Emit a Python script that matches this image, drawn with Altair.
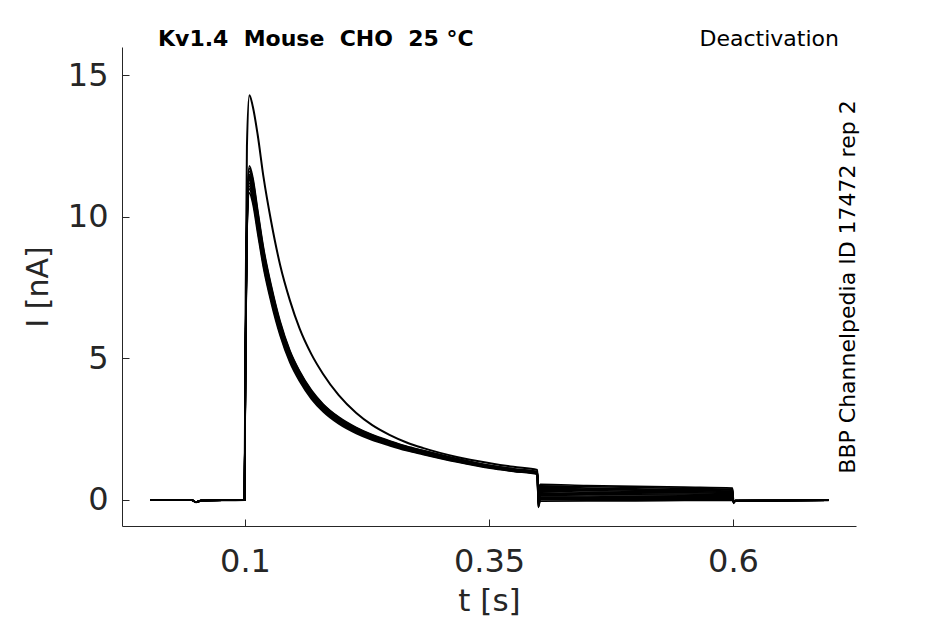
import altair as alt
import pandas as pd

# ---- data ----
T = [0.003, 0.045, 0.050, 0.055, 0.0995,
     0.1005, 0.102,
     0.1045, 0.108, 0.113, 0.119, 0.127, 0.136, 0.146, 0.156, 0.168, 0.180,
     0.196, 0.214, 0.230, 0.248, 0.265, 0.282, 0.317, 0.351, 0.375, 0.3995,
     0.4005, 0.4025, 0.450, 0.500, 0.550, 0.5995,
     0.6005, 0.6025, 0.650, 0.698]

U = [0.0, 0.0, -0.08, -0.02, 0.0, 6.0, 12.5,
     14.3, 13.9, 12.9, 11.4, 9.8, 8.3, 7.05, 6.05, 5.15, 4.45, 3.7, 3.07, 2.65, 2.3, 2.04, 1.84, 1.52, 1.3, 1.17, 1.06,
     0.2, 0.40, 0.38, 0.35, 0.33, 0.31, -0.08, -0.03, -0.02, -0.01]
B1 = [0.0, 0.0, -0.08, -0.02, 0.0, 5.2, 10.4,
      11.8, 11.39, 10.25, 8.9, 7.56, 6.31, 5.28, 4.55, 3.88, 3.39, 2.93, 2.56, 2.31, 2.09, 1.9, 1.75, 1.46, 1.22, 1.1, 0.99,
      0.40, 0.55, 0.51, 0.48, 0.45, 0.42, -0.05, -0.02, -0.02, -0.01]
B2 = [0.0, 0.0, -0.08, -0.02, 0.0, 5.1, 10.3,
      11.71, 11.3, 10.17, 8.83, 7.5, 6.26, 5.24, 4.52, 3.85, 3.37, 2.91, 2.54, 2.29, 2.07, 1.89, 1.74, 1.45, 1.21, 1.09, 0.99,
      0.33, 0.50, 0.47, 0.44, 0.41, 0.38, -0.12, -0.03, -0.02, -0.01]
B3 = [0.0, 0.0, -0.08, -0.02, 0.0, 5.1, 10.2,
      11.61, 11.2, 10.08, 8.75, 7.43, 6.21, 5.19, 4.48, 3.82, 3.34, 2.88, 2.51, 2.27, 2.06, 1.87, 1.72, 1.44, 1.2, 1.08, 0.98,
      0.27, 0.45, 0.42, 0.39, 0.37, 0.35, -0.06, -0.02, -0.02, -0.01]
B4 = [0.0, 0.0, -0.08, -0.02, 0.0, 5.0, 10.1,
      11.5, 11.1, 9.99, 8.68, 7.37, 6.15, 5.15, 4.44, 3.78, 3.31, 2.86, 2.49, 2.25, 2.04, 1.86, 1.71, 1.42, 1.19, 1.07, 0.97,
      0.14, 0.35, 0.33, 0.31, 0.29, 0.27, -0.1, -0.03, -0.02, -0.01]
B5 = [0.0, 0.0, -0.08, -0.02, 0.0, 5.0, 10.0,
      11.45, 11.04, 9.94, 8.63, 7.33, 6.12, 5.12, 4.42, 3.77, 3.29, 2.84, 2.48, 2.24, 2.03, 1.85, 1.7, 1.42, 1.18, 1.06, 0.96,
      0.08, 0.30, 0.28, 0.26, 0.25, 0.23, -0.07, -0.02, -0.02, -0.01]
B6 = [0.0, 0.0, -0.08, -0.02, 0.0, 5.0, 10.0,
      11.4, 11.0, 9.9, 8.6, 7.3, 6.1, 5.1, 4.4, 3.75, 3.28, 2.83, 2.47, 2.23, 2.02, 1.84, 1.69, 1.41, 1.18, 1.06, 0.96,
      0.02, 0.25, 0.23, 0.22, 0.21, 0.19, -0.09, -0.03, -0.02, -0.01]
B7 = [0.0, 0.0, -0.08, -0.02, 0.0, 4.9, 9.9,
      11.35, 10.96, 9.86, 8.57, 7.27, 6.08, 5.08, 4.38, 3.74, 3.27, 2.82, 2.46, 2.22, 2.01, 1.83, 1.68, 1.4, 1.18, 1.06, 0.96,
      -0.04, 0.20, 0.19, 0.18, 0.17, 0.16, -0.05, -0.02, -0.02, -0.01]
B8 = [0.0, 0.0, -0.08, -0.02, 0.0, 4.9, 9.8,
      11.3, 10.9, 9.81, 8.52, 7.23, 6.05, 5.05, 4.36, 3.72, 3.25, 2.8, 2.45, 2.21, 2.0, 1.82, 1.67, 1.4, 1.17, 1.05, 0.95,
      -0.1, 0.15, 0.14, 0.13, 0.13, 0.12, -0.08, -0.03, -0.02, -0.01]
B9 = [0.0, 0.0, -0.08, -0.02, 0.0, 4.8, 9.7,
      11.19, 10.8, 9.72, 8.45, 7.17, 5.99, 5.01, 4.32, 3.68, 3.22, 2.78, 2.43, 2.19, 1.98, 1.81, 1.66, 1.38, 1.16, 1.04, 0.94,
      -0.15, 0.10, 0.10, 0.09, 0.09, 0.08, -0.06, -0.02, -0.02, -0.01]
B10 = [0.0, 0.0, -0.08, -0.02, 0.0, 4.8, 9.6,
       11.09, 10.7, 9.63, 8.37, 7.1, 5.94, 4.96, 4.28, 3.65, 3.19, 2.75, 2.4, 2.17, 1.97, 1.79, 1.64, 1.37, 1.15, 1.03, 0.93,
       -0.2, 0.06, 0.06, 0.05, 0.05, 0.05, -0.07, -0.03, -0.02, -0.01]
B11 = [0.0, 0.0, -0.08, -0.02, 0.0, 4.7, 9.5,
       10.99, 10.6, 9.54, 8.29, 7.04, 5.88, 4.92, 4.24, 3.62, 3.16, 2.73, 2.38, 2.15, 1.95, 1.77, 1.63, 1.36, 1.14, 1.02, 0.93,
       -0.25, 0.02, 0.02, 0.02, 0.02, 0.02, -0.05, -0.02, -0.02, -0.01]
B12 = [0.0, 0.0, -0.08, -0.02, 0.0, 4.7, 9.4,
       10.85, 10.47, 9.42, 8.19, 6.95, 5.81, 4.86, 4.19, 3.57, 3.12, 2.69, 2.35, 2.12, 1.92, 1.75, 1.61, 1.34, 1.12, 1.01, 0.91,
       -0.26, -0.04, -0.03, -0.03, -0.02, -0.02, -0.06, -0.03, -0.02, -0.01]

TRACES = [U, B1, B2, B3, B4, B5, B6, B7, B8, B9, B10, B11, B12]

X_TICKS = [0.1, 0.35, 0.6]
Y_TICKS = [0, 5, 10, 15]
X_DOMAIN = [-0.026, 0.726]
Y_DOMAIN = [-0.92, 16.0]

TITLE = "Kv1.4\u00a0 Mouse\u00a0 CHO\u00a0 25 °C"
PROTOCOL = "Deactivation"
SOURCE = "BBP Channelpedia ID 17472 rep 2"

W, H = 734, 479

rows = []
for k, vals in enumerate(TRACES):
    for t, v in zip(T, vals):
        rows.append({"t": t, "I": v, "trace": k, "w": 2.0 if k == 0 else 1.7})
df = pd.DataFrame(rows)

xscale = alt.Scale(domain=X_DOMAIN, nice=False, zero=False)
yscale = alt.Scale(domain=Y_DOMAIN, nice=False, zero=False)

lines = alt.Chart(df).mark_line(
    color="black", interpolate="monotone", clip=True
).encode(
    x=alt.X("t:Q", scale=xscale,
            axis=alt.Axis(values=X_TICKS, format=".2~f", title="t [s]", ticks=False,
                          tickSize=0, labelPadding=20, titlePadding=9,
                          labelFontSize=32, titleFontSize=31)),
    y=alt.Y("I:Q", scale=yscale,
            axis=alt.Axis(values=Y_TICKS, title="I [nA]", ticks=False, tickSize=0,
                          labelPadding=14, titlePadding=14,
                          labelFontSize=32, titleFontSize=30)),
    detail="trace:N",
    strokeWidth=alt.StrokeWidth("w:Q", scale=None, legend=None),
)

inner_ticks = alt.Chart(df).mark_point(opacity=0).encode(
    x=alt.X("t:Q", scale=xscale,
            axis=alt.Axis(orient="top", offset=-H, values=X_TICKS, labels=False,
                          domain=False, ticks=True, tickSize=7, title=None)),
    y=alt.Y("I:Q", scale=yscale,
            axis=alt.Axis(orient="right", offset=-W, values=Y_TICKS, labels=False,
                          domain=False, ticks=True, tickSize=7, title=None)),
)

title_txt = alt.Chart(pd.DataFrame({"s": [TITLE]})).mark_text(
    align="left", baseline="alphabetic", fontSize=22, fontWeight="bold",
    font="DejaVu Sans", color="black"
).encode(text="s:N", x=alt.value(36), y=alt.value(-1))

proto_txt = alt.Chart(pd.DataFrame({"s": [PROTOCOL]})).mark_text(
    align="right", baseline="alphabetic", fontSize=22,
    font="DejaVu Sans", color="black"
).encode(text="s:N", x=alt.value(717), y=alt.value(-1))

source_txt = alt.Chart(pd.DataFrame({"s": [SOURCE]})).mark_text(
    align="center", baseline="alphabetic", fontSize=22, angle=270,
    font="DejaVu Sans", color="black"
).encode(text="s:N", x=alt.value(733), y=alt.value(240))

chart = alt.layer(lines, inner_ticks, title_txt, proto_txt, source_txt).resolve_axis(
    x="independent", y="independent"
).properties(
    width=W, height=H,
    autosize=alt.AutoSizeParams(type="none"),
    padding={"left": 114, "top": 39, "right": 70, "bottom": 90},
).configure_view(stroke=None).configure_axis(
    labelFont="DejaVu Sans", titleFont="DejaVu Sans", labelColor="#262626",
    titleColor="#262626", domainColor="#262626", tickColor="#262626",
    titleFontWeight="normal", grid=False, domainWidth=1, tickWidth=1
)

chart.save("out.html", embed_options={"renderer": "svg", "actions": False})
